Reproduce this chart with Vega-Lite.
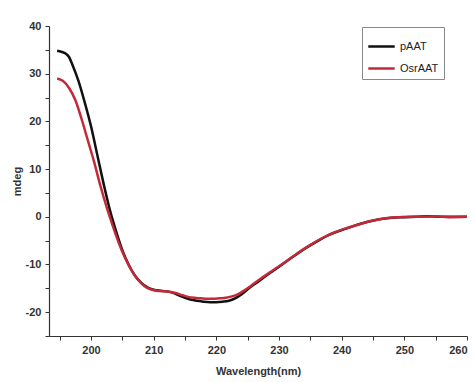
{
  "$schema": "https://vega.github.io/schema/vega-lite/v6.json",
  "width": 418,
  "height": 310,
  "autosize": {"type": "none"},
  "padding": {"left": 49, "top": 26, "right": 8, "bottom": 46},
  "background": "white",
  "config": {
    "view": {"stroke": null},
    "font": "Liberation Sans",
    "axis": {"grid": false, "domainColor": "#333", "tickColor": "#333", "labelColor": "#333", "titleColor": "#333", "labelFont": "Liberation Sans", "titleFont": "Liberation Sans", "labelFontSize": 11, "labelFontWeight": "bold", "titleFontSize": 11, "titleFontWeight": "bold", "tickSize": 4, "domainWidth": 1.2}
  },
  "data": {"values": [
    {"wl": 194.6, "v": 34.8, "s": "pAAT"},
    {"wl": 195.5, "v": 34.5, "s": "pAAT"},
    {"wl": 196, "v": 34.2, "s": "pAAT"},
    {"wl": 196.5, "v": 33.5, "s": "pAAT"},
    {"wl": 197, "v": 32, "s": "pAAT"},
    {"wl": 198, "v": 28.5, "s": "pAAT"},
    {"wl": 199, "v": 24, "s": "pAAT"},
    {"wl": 200, "v": 19, "s": "pAAT"},
    {"wl": 201, "v": 13, "s": "pAAT"},
    {"wl": 202, "v": 7, "s": "pAAT"},
    {"wl": 203, "v": 1.5, "s": "pAAT"},
    {"wl": 204, "v": -3, "s": "pAAT"},
    {"wl": 205, "v": -7, "s": "pAAT"},
    {"wl": 206, "v": -10, "s": "pAAT"},
    {"wl": 207, "v": -12.3, "s": "pAAT"},
    {"wl": 208, "v": -13.8, "s": "pAAT"},
    {"wl": 209, "v": -14.8, "s": "pAAT"},
    {"wl": 210, "v": -15.3, "s": "pAAT"},
    {"wl": 211, "v": -15.5, "s": "pAAT"},
    {"wl": 212, "v": -15.6, "s": "pAAT"},
    {"wl": 213, "v": -15.9, "s": "pAAT"},
    {"wl": 214, "v": -16.5, "s": "pAAT"},
    {"wl": 215, "v": -17, "s": "pAAT"},
    {"wl": 216, "v": -17.4, "s": "pAAT"},
    {"wl": 217, "v": -17.6, "s": "pAAT"},
    {"wl": 218, "v": -17.8, "s": "pAAT"},
    {"wl": 219, "v": -17.9, "s": "pAAT"},
    {"wl": 220, "v": -17.9, "s": "pAAT"},
    {"wl": 221, "v": -17.8, "s": "pAAT"},
    {"wl": 222, "v": -17.6, "s": "pAAT"},
    {"wl": 223, "v": -17.1, "s": "pAAT"},
    {"wl": 224, "v": -16.3, "s": "pAAT"},
    {"wl": 225, "v": -15.2, "s": "pAAT"},
    {"wl": 226, "v": -14.2, "s": "pAAT"},
    {"wl": 227, "v": -13.3, "s": "pAAT"},
    {"wl": 228, "v": -12.3, "s": "pAAT"},
    {"wl": 229, "v": -11.4, "s": "pAAT"},
    {"wl": 230, "v": -10.5, "s": "pAAT"},
    {"wl": 232, "v": -8.6, "s": "pAAT"},
    {"wl": 234, "v": -6.8, "s": "pAAT"},
    {"wl": 236, "v": -5.2, "s": "pAAT"},
    {"wl": 238, "v": -3.8, "s": "pAAT"},
    {"wl": 240, "v": -2.8, "s": "pAAT"},
    {"wl": 242, "v": -1.9, "s": "pAAT"},
    {"wl": 244, "v": -1.1, "s": "pAAT"},
    {"wl": 246, "v": -0.5, "s": "pAAT"},
    {"wl": 248, "v": -0.2, "s": "pAAT"},
    {"wl": 250, "v": -0.1, "s": "pAAT"},
    {"wl": 252, "v": 0, "s": "pAAT"},
    {"wl": 254, "v": 0.1, "s": "pAAT"},
    {"wl": 256, "v": 0, "s": "pAAT"},
    {"wl": 258, "v": 0, "s": "pAAT"},
    {"wl": 260, "v": 0, "s": "pAAT"},
    {"wl": 194.6, "v": 29, "s": "OsrAAT"},
    {"wl": 195.5, "v": 28.5, "s": "OsrAAT"},
    {"wl": 196.5, "v": 27, "s": "OsrAAT"},
    {"wl": 197.5, "v": 24.5, "s": "OsrAAT"},
    {"wl": 198.5, "v": 20.5, "s": "OsrAAT"},
    {"wl": 199.5, "v": 16, "s": "OsrAAT"},
    {"wl": 200.5, "v": 11.5, "s": "OsrAAT"},
    {"wl": 201.5, "v": 6.5, "s": "OsrAAT"},
    {"wl": 202.5, "v": 2, "s": "OsrAAT"},
    {"wl": 203.5, "v": -2, "s": "OsrAAT"},
    {"wl": 204.5, "v": -5.7, "s": "OsrAAT"},
    {"wl": 205.5, "v": -8.8, "s": "OsrAAT"},
    {"wl": 206.5, "v": -11.3, "s": "OsrAAT"},
    {"wl": 207.5, "v": -13.2, "s": "OsrAAT"},
    {"wl": 208.5, "v": -14.5, "s": "OsrAAT"},
    {"wl": 209.5, "v": -15.2, "s": "OsrAAT"},
    {"wl": 210.5, "v": -15.5, "s": "OsrAAT"},
    {"wl": 211.5, "v": -15.6, "s": "OsrAAT"},
    {"wl": 212.5, "v": -15.7, "s": "OsrAAT"},
    {"wl": 213.5, "v": -16, "s": "OsrAAT"},
    {"wl": 214.5, "v": -16.4, "s": "OsrAAT"},
    {"wl": 215.5, "v": -16.8, "s": "OsrAAT"},
    {"wl": 216.5, "v": -17, "s": "OsrAAT"},
    {"wl": 217.5, "v": -17.1, "s": "OsrAAT"},
    {"wl": 218.5, "v": -17.2, "s": "OsrAAT"},
    {"wl": 219.5, "v": -17.2, "s": "OsrAAT"},
    {"wl": 220.5, "v": -17.1, "s": "OsrAAT"},
    {"wl": 221.5, "v": -17, "s": "OsrAAT"},
    {"wl": 222.5, "v": -16.7, "s": "OsrAAT"},
    {"wl": 223.5, "v": -16.2, "s": "OsrAAT"},
    {"wl": 224.5, "v": -15.4, "s": "OsrAAT"},
    {"wl": 225.5, "v": -14.5, "s": "OsrAAT"},
    {"wl": 226.5, "v": -13.5, "s": "OsrAAT"},
    {"wl": 227.5, "v": -12.6, "s": "OsrAAT"},
    {"wl": 228.5, "v": -11.7, "s": "OsrAAT"},
    {"wl": 229.5, "v": -10.8, "s": "OsrAAT"},
    {"wl": 231, "v": -9.5, "s": "OsrAAT"},
    {"wl": 233, "v": -7.6, "s": "OsrAAT"},
    {"wl": 235, "v": -5.9, "s": "OsrAAT"},
    {"wl": 237, "v": -4.4, "s": "OsrAAT"},
    {"wl": 239, "v": -3.2, "s": "OsrAAT"},
    {"wl": 241, "v": -2.3, "s": "OsrAAT"},
    {"wl": 243, "v": -1.5, "s": "OsrAAT"},
    {"wl": 245, "v": -0.8, "s": "OsrAAT"},
    {"wl": 247, "v": -0.3, "s": "OsrAAT"},
    {"wl": 249, "v": -0.1, "s": "OsrAAT"},
    {"wl": 251, "v": 0, "s": "OsrAAT"},
    {"wl": 253, "v": 0, "s": "OsrAAT"},
    {"wl": 255, "v": 0.1, "s": "OsrAAT"},
    {"wl": 257, "v": -0.1, "s": "OsrAAT"},
    {"wl": 260, "v": 0, "s": "OsrAAT"}
  ]},
  "mark": {"type": "line", "strokeWidth": 2.5, "interpolate": "monotone"},
  "encoding": {
    "x": {"field": "wl", "type": "quantitative", "scale": {"domain": [193.3, 260], "nice": false, "zero": false},
      "axis": {"title": "Wavelength(nm)", "values": [195, 200, 205, 210, 215, 220, 225, 230, 235, 240, 245, 250, 255, 260], "labelExpr": "datum.value % 10 === 0 ? '' + datum.value : ''", "labelPadding": 4, "titlePadding": 10}},
    "y": {"field": "v", "type": "quantitative", "scale": {"domain": [-25, 40], "nice": false, "zero": false},
      "axis": {"title": "mdeg", "values": [-25, -20, -15, -10, -5, 0, 5, 10, 15, 20, 25, 30, 35, 40], "labelExpr": "datum.value % 10 === 0 ? '' + datum.value : ''", "labelPadding": 4, "titlePadding": 3}},
    "color": {"field": "s", "type": "nominal", "sort": ["pAAT", "OsrAAT"],
      "scale": {"domain": ["pAAT", "OsrAAT"], "range": ["#111111", "#c22a3a"]},
      "legend": {"title": null, "orient": "none", "legendX": 313, "legendY": 1, "strokeColor": "#888", "padding": 5, "symbolType": "stroke", "symbolSize": 700, "symbolStrokeWidth": 2.5, "labelFontSize": 11, "labelFont": "Liberation Sans", "labelFontWeight": "normal", "labelColor": "#222", "rowPadding": 2}}
  }
}
